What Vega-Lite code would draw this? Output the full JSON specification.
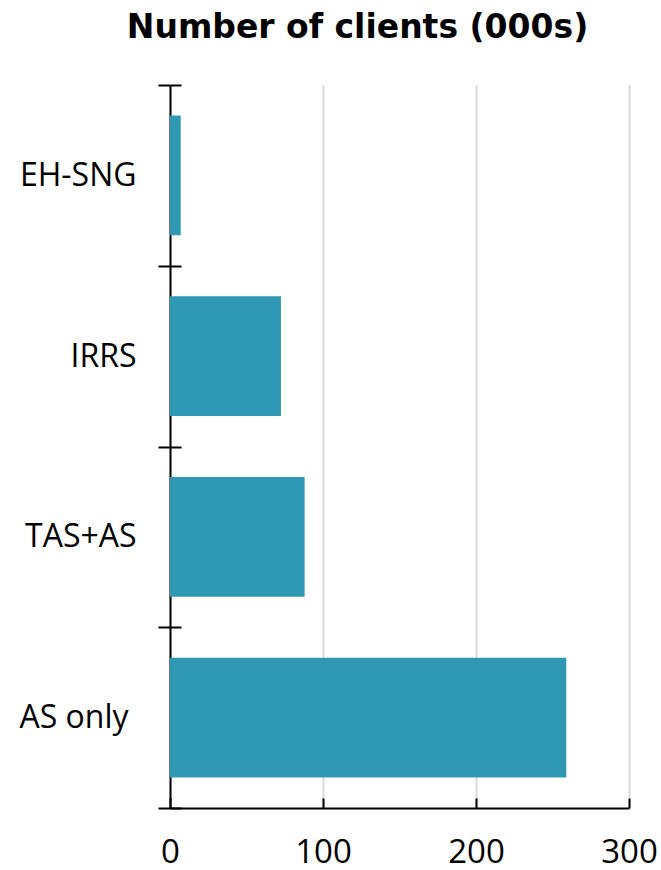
{
  "$schema": "https://vega.github.io/schema/vega-lite/v6.json",
  "autosize": "none",
  "width": 459,
  "height": 723,
  "padding": {"left": 170, "top": 85, "right": 32, "bottom": 62},
  "background": "white",
  "config": {
    "font": "Open Sans",
    "view": {"stroke": null}
  },
  "title": {
    "text": "Number of clients (000s)",
    "fontSize": 33,
    "fontWeight": "bold",
    "font": "DejaVu Sans",
    "color": "black",
    "anchor": "middle",
    "dx": -42,
    "offset": 24
  },
  "data": {
    "values": [
      {"scheme": "EH-SNG", "clients": 7},
      {"scheme": "IRRS", "clients": 72.5},
      {"scheme": "TAS+AS", "clients": 88},
      {"scheme": "AS only", "clients": 259}
    ]
  },
  "encoding": {
    "y": {
      "field": "scheme",
      "type": "nominal",
      "sort": null,
      "scale": {"paddingInner": 0, "paddingOuter": 0}
    },
    "x": {
      "field": "clients",
      "type": "quantitative",
      "scale": {"domain": [0, 300], "nice": false}
    }
  },
  "layer": [
    {
      "mark": {"type": "bar", "color": "#2f99b4", "height": {"band": 0.663}},
      "encoding": {
        "y": {
          "field": "scheme",
          "type": "nominal",
          "sort": null,
          "axis": {
            "title": null,
            "orient": "left",
            "tickBand": "extent",
            "tickSize": 12,
            "tickWidth": 2,
            "tickColor": "black",
            "domainColor": "black",
            "domainWidth": 2,
            "labelFontSize": 32,
            "labelColor": "black",
            "labelPadding": {"condition": {"test": "datum.label === 'AS only'", "value": 30}, "value": 22},
            "labelFont": "Open Sans",
            "grid": false
          }
        },
        "x": {
          "field": "clients",
          "type": "quantitative",
          "axis": {
            "title": null,
            "values": [0, 100, 200, 300],
            "tickSize": -10,
            "tickWidth": 2,
            "tickColor": "black",
            "domainColor": "black",
            "domainWidth": 2,
            "grid": true,
            "gridColor": "#d9d9d9",
            "gridWidth": 2,
            "labelFlush": false,
            "labelFontSize": 33,
            "labelColor": "black",
            "labelPadding": 38,
            "labelFont": "Open Sans"
          }
        }
      }
    },
    {
      "mark": {"type": "bar", "opacity": 0, "height": {"band": 0.663}},
      "encoding": {
        "y": {
          "field": "scheme",
          "type": "nominal",
          "sort": null,
          "axis": {
            "title": null,
            "orient": "right",
            "offset": -459,
            "tickBand": "extent",
            "tickSize": 11,
            "tickWidth": 2,
            "tickColor": "black",
            "domain": false,
            "labels": false,
            "grid": false
          }
        }
      }
    }
  ],
  "resolve": {"axis": {"y": "independent"}}
}
